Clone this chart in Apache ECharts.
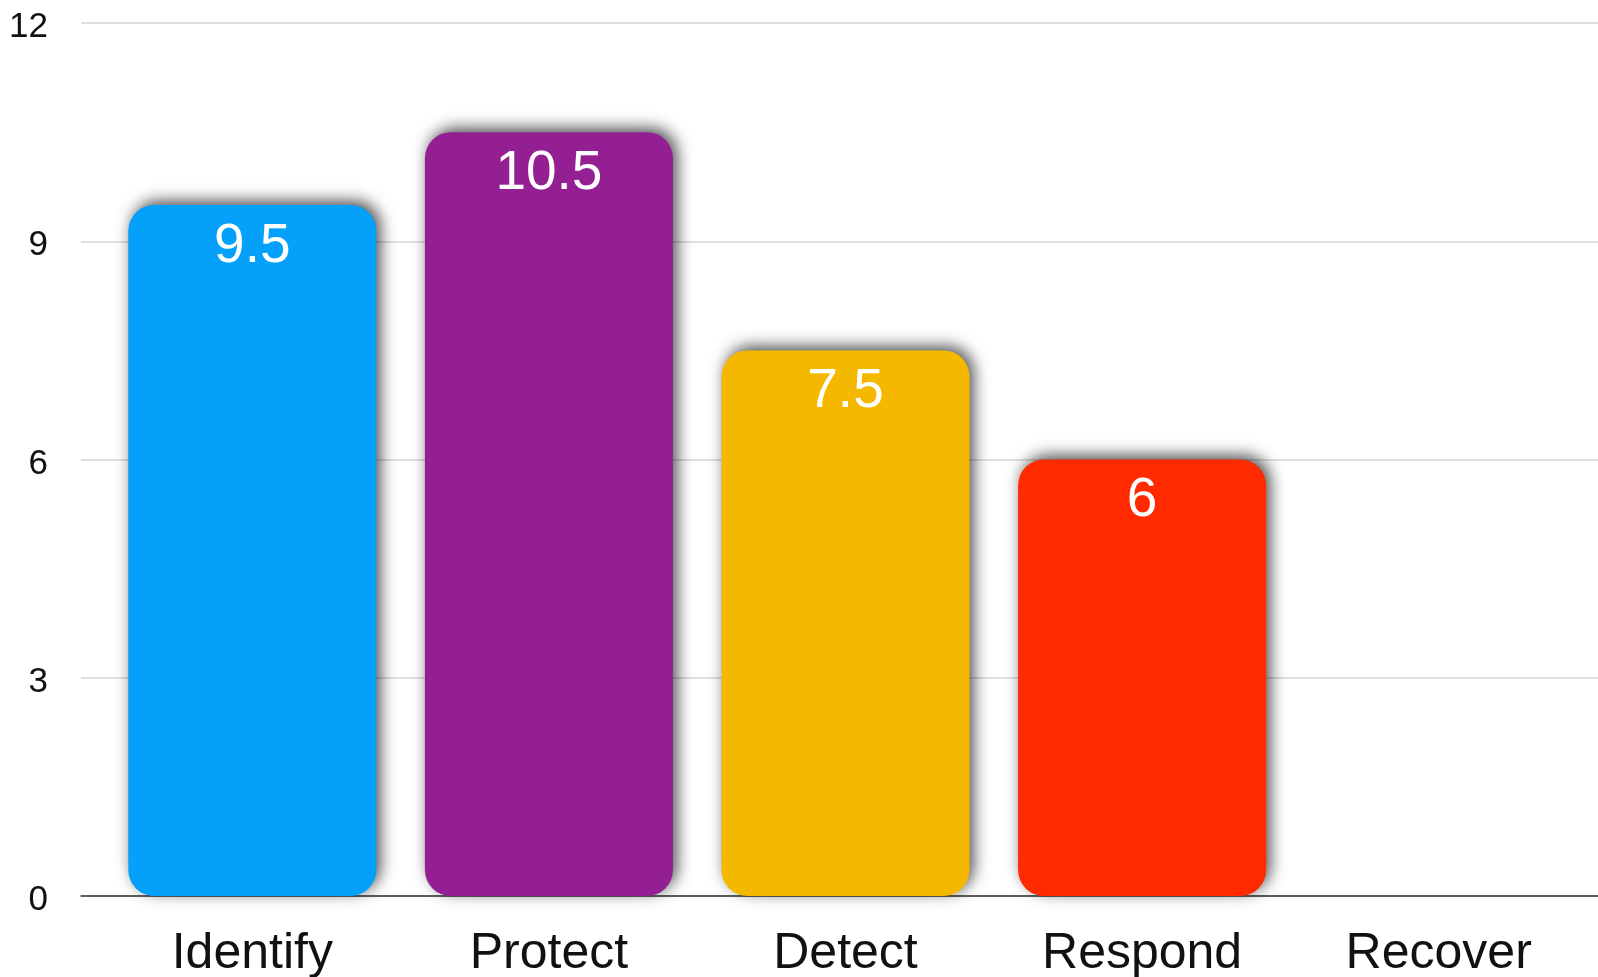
<!DOCTYPE html>
<html>
<head>
<meta charset="utf-8">
<script src="https://cdn.jsdelivr.net/npm/echarts@6/dist/echarts.min.js"></script>
<style>
  html, body { margin: 0; padding: 0; background: #fff; }
  #chart { width: 1598px; height: 977px; }
</style>
</head>
<body>
<div id="chart"></div>
<script>
const categories = ['Identify', 'Protect', 'Detect', 'Respond', 'Recover']
const values = [9.5, 10.5, 7.5, 6, null]
const barColors = ['#05a0fa', '#941f92', '#f5b800', '#ff2a00', '#888888']
const yTicks = { min: 0, max: 12, interval: 3 }

const font = '"Liberation Sans", Arial, Helvetica, sans-serif'

const chart = echarts.init(document.getElementById('chart'))

chart.setOption({
  backgroundColor: '#ffffff',
  animation: false,
  grid: [
    // background grid: gridlines + baseline span the full width
    { left: 81, right: 0, top: 23, bottom: 81, outerBoundsMode: 'none' },
    // bars
    { left: 104, right: 11, top: 23, bottom: 81, outerBoundsMode: 'none' }
  ],
  xAxis: [
    {
      gridIndex: 0,
      type: 'category',
      data: [''],
      axisLine: { show: true, lineStyle: { color: '#333', width: 1.5 } },
      axisTick: { show: false },
      axisLabel: { show: false }
    },
    {
      gridIndex: 1,
      type: 'category',
      data: categories,
      axisLine: { show: false },
      axisTick: { show: false },
      axisLabel: {
        color: '#111',
        fontFamily: font,
        fontSize: 50,
        margin: 33
      }
    }
  ],
  yAxis: [
    {
      gridIndex: 0,
      type: 'value',
      min: yTicks.min,
      max: yTicks.max,
      interval: yTicks.interval,
      axisLine: { show: false },
      axisTick: { show: false },
      axisLabel: {
        margin: 33,
        formatter: '{t|{value}}',
        rich: {
          t: {
            color: '#111',
            fontFamily: font,
            fontSize: 35,
            padding: [9, 0, 0, 0]
          }
        }
      },
      splitLine: { lineStyle: { color: '#d4d4d4', width: 1.5 } }
    },
    {
      gridIndex: 1,
      type: 'value',
      min: yTicks.min,
      max: yTicks.max,
      interval: yTicks.interval,
      show: false
    }
  ],
  series: [
    {
      type: 'bar',
      xAxisIndex: 1,
      yAxisIndex: 1,
      barWidth: 248,
      data: values.map((v, i) => ({
        value: v,
        itemStyle: { color: barColors[i] }
      })),
      itemStyle: {
        borderRadius: 26,
        shadowBlur: 16,
        shadowColor: 'rgba(0,0,0,0.7)',
        shadowOffsetX: 4,
        shadowOffsetY: -4
      },
      label: {
        show: true,
        position: 'insideTop',
        distance: 14,
        color: '#fff',
        fontFamily: font,
        fontSize: 55
      }
    }
  ]
})
</script>
</body>
</html>
